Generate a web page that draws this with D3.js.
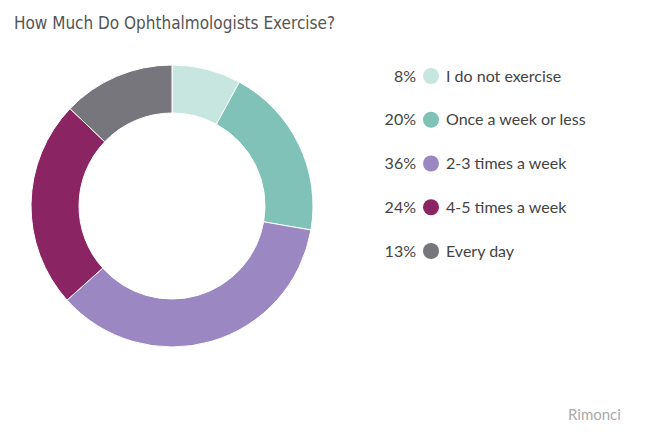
<!DOCTYPE html><html><head><meta charset="utf-8"><script src="https://cdn.jsdelivr.net/npm/d3@7"></script>
<style>body{margin:0;background:#fff}</style></head><body><svg id="c" width="650" height="442"></svg>
<script>
const categories=["I do not exercise","Once a week or less","2-3 times a week","4-5 times a week","Every day"];
const values=[8,20,36,24,13];
const colors=["#c8e6e0","#80c2b8","#9b87c2","#8a2462","#77767d"];
const svg=d3.select("#c");
svg.append("text").attr("x",14).attr("y",29).attr("font-family","DejaVu Sans Condensed").attr("font-size",17).attr("fill","#555").text("How Much Do Ophthalmologists Exercise?");
const pie=d3.pie().sort(null)(values);
const arc=d3.arc().innerRadius(93).outerRadius(141);
const g=svg.append("g").attr("transform","translate(172,206)");
g.selectAll("path").data(pie).join("path").attr("d",arc).attr("fill",(d,i)=>colors[i]).attr("stroke","#fff").attr("stroke-width",1);
const y=d3.scalePoint().domain(categories).range([76,251]);
const lg=svg.append("g").attr("font-family","Lato, sans-serif").attr("font-size",16).attr("fill","#444");
categories.forEach((c,i)=>{
 lg.append("text").attr("x",416).attr("y",y(c)+5.5).attr("text-anchor","end").text(values[i]+"%");
 lg.append("circle").attr("cx",431).attr("cy",y(c)).attr("r",8).attr("fill",colors[i]);
 lg.append("text").attr("x",446).attr("y",y(c)+5.5).text(c);
});
svg.append("text").attr("x",568).attr("y",420).attr("font-family","Lato, sans-serif").attr("font-size",15).attr("fill","#aaa").text("Rimonci");
</script></body></html>
